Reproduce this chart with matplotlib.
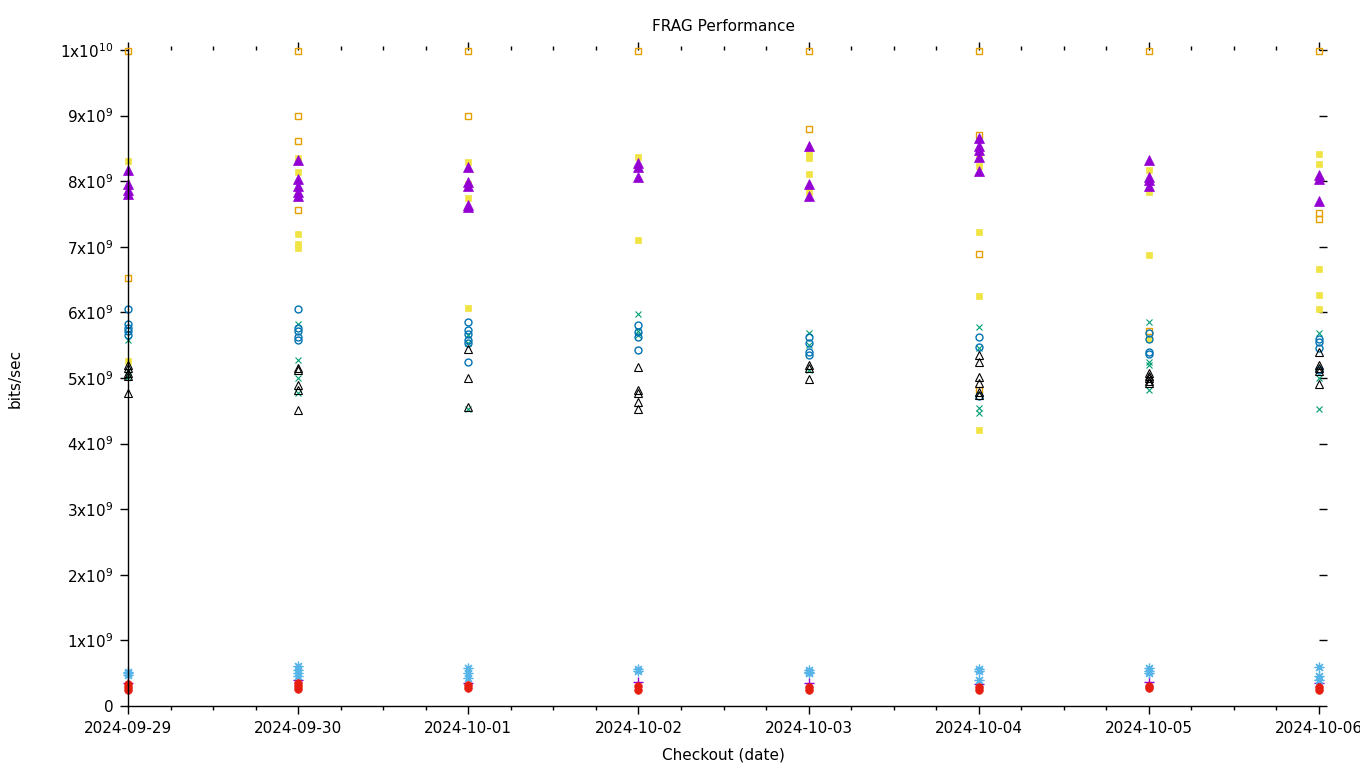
import datetime
import matplotlib
matplotlib.use('Agg')
import matplotlib.pyplot as plt
import matplotlib.dates as mdates
from matplotlib.ticker import FixedLocator, FuncFormatter

DATES = ['2024-09-29', '2024-09-30', '2024-10-01', '2024-10-02',
		 '2024-10-03', '2024-10-04', '2024-10-05', '2024-10-06']

# values in units of 1e9 bits/sec, one list per checkout date
plus_purple = [[0.355], [0.40], [0.355], [0.37], [0.355], [0.335], [0.37], [0.355]]
x_green = [[5.58, 5.10, 5.02], [5.83, 5.28, 5.00, 4.77], [5.66, 5.53, 4.53], [5.98, 5.71, 5.65],
		   [5.69, 5.50, 5.12], [5.78, 5.46, 4.54, 4.46], [5.86, 5.25, 5.20, 4.82], [5.69, 5.00, 4.52]]
star_lightblue = [[0.52, 0.50, 0.47], [0.61, 0.55, 0.50, 0.45], [0.575, 0.50, 0.42], [0.56, 0.54],
				  [0.55, 0.52, 0.50], [0.56, 0.54, 0.40], [0.575, 0.54, 0.50], [0.60, 0.45, 0.40]]
osq_orange = [[9.98, 6.52], [9.98, 8.99, 8.62, 7.56], [9.98, 8.99], [9.98],
			  [9.98, 8.79], [9.98, 8.71, 6.89, 4.82], [9.98, 5.71], [9.98, 8.02, 7.51, 7.42]]
fsq_yellow = [[8.31, 5.26], [8.36, 8.14, 7.20, 7.05, 6.98], [8.30, 7.95, 7.74, 6.06], [8.37, 7.10],
			  [8.41, 8.35, 8.11, 7.84], [8.40, 8.23, 7.23, 6.25, 4.21], [8.17, 7.84, 6.87, 5.60],
			  [8.42, 8.26, 6.66, 6.26, 6.05]]
ocirc_blue = [[6.05, 5.82, 5.76, 5.71, 5.66], [6.05, 5.76, 5.71, 5.62, 5.58],
			  [5.85, 5.73, 5.67, 5.58, 5.53, 5.24], [5.81, 5.70, 5.63, 5.42], [5.63, 5.53, 5.40, 5.35],
			  [5.63, 5.48, 4.72], [5.68, 5.60, 5.40, 5.37], [5.60, 5.55, 5.45, 5.12]]
fcirc_red = [[0.335, 0.29, 0.25], [0.355, 0.305, 0.255], [0.32, 0.27], [0.305, 0.245],
			 [0.29, 0.25], [0.29, 0.25], [0.305, 0.28], [0.29, 0.25]]
otri_black = [[5.20, 5.15, 5.08, 5.03, 4.77], [5.16, 5.12, 4.89, 4.82, 4.51], [5.44, 5.00, 4.56],
			  [5.17, 4.82, 4.77, 4.64, 4.52], [5.20, 5.15, 4.98], [5.35, 5.25, 5.02, 4.92, 4.79, 4.74],
			  [5.07, 5.03, 5.00, 4.95, 4.92], [5.40, 5.20, 5.15, 5.10, 4.91]]
ftri_purple = [[8.17, 7.96, 7.87, 7.80], [8.32, 8.03, 7.92, 7.84, 7.77], [8.21, 7.99, 7.92, 7.63, 7.60],
			   [8.27, 8.22, 8.07], [8.54, 7.96, 7.77], [8.66, 8.53, 8.48, 8.37, 8.16],
			   [8.32, 8.07, 8.02, 7.92], [8.09, 8.04, 7.70]]

Y_TICKS = [0, 1, 2, 3, 4, 5, 6, 7, 8, 9, 10]
FONT_SIZE = 11


def flatten(series: list) -> (list, list):
	days = [datetime.datetime.strptime(d, '%Y-%m-%d') for d in DATES]
	xs, ys = [], []
	for day, values in zip(days, series):
		for v in values:
			xs.append(day)
			ys.append(v * 1e9)
	return xs, ys


def y_label(value, pos) -> str:
	if value == 0:
		return '0'
	exponent = 10 if value >= 1e10 else 9
	mantissa = int(round(value / 10 ** exponent))
	return str(mantissa) + 'x10$^{' + str(exponent) + '}$'


fig = plt.figure(figsize=(13.6, 7.68), dpi=100)
ax = fig.add_axes([128 / 1360, 1 - 706 / 768, (1319 - 128) / 1360, (706 - 50) / 768])

styles = [
	(plus_purple, dict(marker='+', color='#9400d3', ms=7, mew=1.0, fillstyle='none')),
	(x_green, dict(marker='x', color='#009e73', ms=5, mew=0.8)),
	(star_lightblue, dict(marker=(8, 2, 0), color='#56b4e9', ms=7, mew=0.9)),
	(osq_orange, dict(marker='s', color='#e69f00', ms=5, mew=1.0, fillstyle='none')),
	(fsq_yellow, dict(marker='s', color='#f0e442', ms=5, mew=0.5)),
	(ocirc_blue, dict(marker='o', color='#0072b2', ms=5, mew=1.0, fillstyle='none')),
	(fcirc_red, dict(marker='o', color='#e51e10', ms=5.5, mew=0.5)),
	(otri_black, dict(marker='^', color='black', ms=6, mew=0.8, fillstyle='none')),
	(ftri_purple, dict(marker='^', color='#9400d3', ms=6.5, mew=0.5)),
]
for series, style in styles:
	xs, ys = flatten(series)
	ax.plot(xs, ys, linestyle='None', clip_on=False, **style)

start = datetime.datetime.strptime(DATES[0], '%Y-%m-%d')
end = datetime.datetime.strptime(DATES[-1], '%Y-%m-%d')
ax.set_xlim(start, end)
ax.set_ylim(0, 1e10)

ax.xaxis.set_major_locator(mdates.DayLocator())
ax.xaxis.set_minor_locator(mdates.HourLocator(byhour=[6, 12, 18]))
ax.xaxis.set_major_formatter(mdates.DateFormatter('%Y-%m-%d'))
ax.yaxis.set_major_locator(FixedLocator([t * 1e9 for t in Y_TICKS]))
ax.yaxis.set_major_formatter(FuncFormatter(y_label))

ax.spines['top'].set_visible(False)
ax.spines['right'].set_visible(False)
for side in ['left', 'bottom']:
	ax.spines[side].set_linewidth(1.0)
ax.tick_params(which='both', direction='out', top=True, right=True, width=1.0, labelsize=FONT_SIZE)
ax.tick_params(which='major', length=5.5, pad=5)
ax.tick_params(which='minor', length=2.7)

ax.set_title('FRAG Performance', fontsize=FONT_SIZE, pad=14)
ax.set_xlabel('Checkout (date)', fontsize=FONT_SIZE)
ax.xaxis.set_label_coords(0.5, (706 - 755) / 656)
ax.xaxis.label.set_va('center')
ax.set_ylabel('bits/sec', fontsize=FONT_SIZE)
ax.yaxis.set_label_coords((15 - 128) / 1191, 0.5)
ax.yaxis.label.set_va('center')

plt.savefig('out.png', dpi=100)
